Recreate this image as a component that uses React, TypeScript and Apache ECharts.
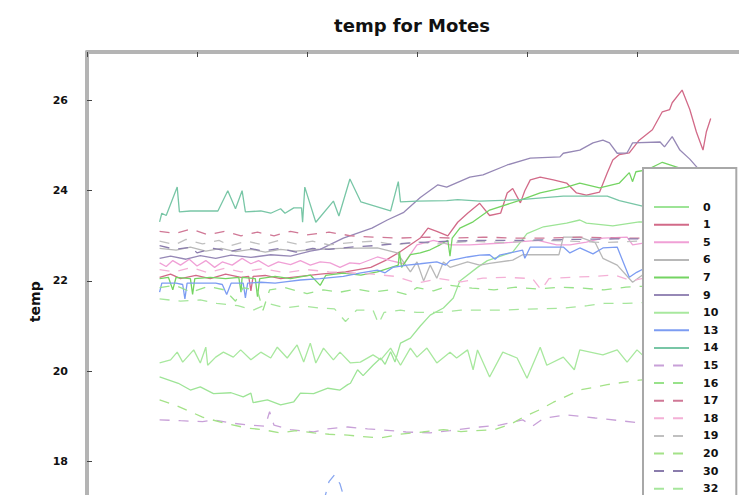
import React, { useEffect, useRef } from "react";
import * as echarts from "echarts";

type Pt = [number, number];

const TITLE = "temp for Motes";
const Y_NAME = "temp";
const X_MIN = 0;
const X_MAX = 60;
const X_STEP = 10;
const Y_MIN = 16;
const Y_MAX = 27.075;
const Y_STEP = 2;

const mote0: Pt[] = [[6.6,19.87],[8.3,19.73],[9.4,19.58],[10.3,19.65],[11.5,19.5],[13.1,19.52],[14.2,19.43],[14.9,19.51],[15.1,19.3],[16.4,19.36],[17.6,19.25],[18.8,19.32],[19.4,19.51],[20.6,19.5],[21.9,19.62],[23.0,19.58],[23.7,19.7],[23.95,19.73],[24.6,20.03],[25.1,19.9],[26.0,20.13],[26.7,20.29],[27.1,20.15],[27.6,20.43],[28.0,20.2],[28.5,20.62],[29.4,20.73],[30.3,21.0],[31.2,21.24],[32.4,21.4],[33.3,21.62],[33.9,22.0],[35.5,22.3],[36.4,22.45],[38.7,22.64],[40.0,23.05],[41.5,23.2],[43.6,23.28],[44.8,23.35],[45.4,23.28],[47.8,23.22],[50.2,23.31],[52.1,23.3],[56.7,23.3]];
const mote1: Pt[] = [[6.6,22.08],[7.6,22.15],[8.5,22.05],[9.9,22.12],[11.2,22.05],[12.6,22.15],[14.0,22.08],[14.7,22.1],[14.9,21.78],[15.1,22.1],[16.2,22.12],[17.6,22.05],[19.4,22.1],[21.2,22.15],[23.5,22.2],[25.8,22.3],[27.1,22.45],[28.5,22.65],[29.4,22.8],[30.3,22.95],[31.0,23.17],[31.8,23.1],[32.8,23.0],[33.7,23.3],[34.6,23.5],[35.7,23.72],[36.6,23.45],[37.6,23.5],[38.2,23.95],[38.7,24.05],[39.4,23.73],[39.8,24.0],[40.3,24.24],[41.2,24.3],[42.4,24.24],[43.6,24.17],[44.5,23.95],[45.4,23.9],[46.6,23.97],[47.3,24.4],[47.8,24.68],[48.4,24.8],[49.3,24.84],[50.2,25.12],[51.4,25.35],[52.3,25.75],[52.97,25.8],[53.2,25.95],[54.1,26.23],[54.8,25.8],[55.4,25.3],[56.0,24.9],[56.3,25.3],[56.7,25.6]];
const mote5: Pt[] = [[6.6,22.4],[7.2,22.32],[7.8,22.45],[8.5,22.35],[9.3,22.48],[10.0,22.33],[10.8,22.45],[11.6,22.3],[12.3,22.42],[13.2,22.35],[14.1,22.5],[14.9,22.38],[15.6,22.45],[16.5,22.32],[17.4,22.42],[18.5,22.36],[19.4,22.45],[20.3,22.35],[21.2,22.42],[22.1,22.4],[23.0,22.3],[23.9,22.4],[24.8,22.38],[26.4,22.53],[27.6,22.45],[28.8,22.38],[30.0,22.8],[31.5,22.9],[33.0,22.8],[34.8,22.8],[37.8,22.84],[41.0,22.9],[42.7,22.8],[43.9,22.8],[45.4,22.86],[46.9,22.95],[49.1,22.97],[49.6,22.8],[52.1,22.9],[55.7,22.9],[56.7,22.9]];
const mote6: Pt[] = [[6.6,22.72],[8.1,22.68],[9.4,22.75],[10.8,22.66],[12.2,22.72],[13.5,22.65],[14.9,22.7],[16.2,22.64],[17.6,22.7],[19.0,22.66],[20.3,22.69],[23.0,22.72],[26.4,22.73],[28.2,22.62],[29.4,22.2],[30.0,22.42],[30.6,22.0],[31.2,22.35],[31.8,22.06],[32.4,22.42],[33.0,22.3],[34.6,22.42],[35.7,22.35],[36.6,22.39],[38.7,22.46],[39.6,22.58],[42.9,22.58],[43.3,22.97],[44.8,22.97],[46.2,22.85],[46.9,22.5],[48.2,22.35],[49.6,21.97],[50.5,22.13],[53.9,22.2],[56.7,22.2]];
const mote7: Pt[] = [[6.6,22.05],[7.4,22.08],[7.8,21.8],[8.1,22.08],[9.4,22.05],[9.6,21.7],[9.8,22.05],[11.2,22.08],[12.6,22.05],[13.8,22.08],[14.0,21.75],[14.1,22.08],[15.3,22.05],[15.5,21.65],[15.7,22.05],[17.1,22.1],[18.5,22.05],[20.3,22.13],[21.2,21.9],[21.7,22.12],[23.3,22.17],[24.9,22.13],[26.4,22.2],[28.3,22.35],[28.4,22.65],[28.6,22.3],[29.4,22.58],[30.3,22.62],[31.2,22.69],[32.1,22.8],[32.8,22.9],[33.0,22.55],[33.2,22.95],[33.9,23.17],[35.1,23.31],[36.6,23.57],[39.4,23.79],[41.2,23.95],[43.6,24.08],[44.8,24.17],[46.6,24.06],[48.4,24.17],[49.3,24.4],[49.6,24.2],[49.9,24.42],[50.9,24.46],[51.8,24.57],[52.3,24.63],[53.9,24.5],[56.7,24.4]];
const mote9: Pt[] = [[6.6,22.5],[7.6,22.55],[9.0,22.48],[10.3,22.56],[11.7,22.5],[13.1,22.57],[14.9,22.52],[16.7,22.58],[18.5,22.55],[20.3,22.66],[21.2,22.7],[23.3,22.95],[25.9,23.17],[27.3,23.35],[28.8,23.52],[30.3,23.85],[31.9,24.13],[32.7,24.08],[34.8,24.3],[36.0,24.35],[38.2,24.57],[40.3,24.72],[43.0,24.75],[43.3,24.83],[44.8,24.9],[46.0,25.06],[46.9,25.12],[47.5,25.06],[48.2,24.83],[49.1,24.84],[49.6,25.06],[52.1,25.08],[52.5,24.97],[53.2,25.2],[53.9,24.9],[54.8,24.7],[55.7,24.45],[56.7,24.3]];
const mote10: Pt[] = [[6.6,20.18],[7.6,20.25],[8.2,20.42],[8.7,20.2],[9.7,20.47],[10.3,20.18],[10.8,20.53],[10.97,20.13],[11.7,20.31],[12.4,20.42],[13.3,20.31],[13.97,20.47],[14.9,20.25],[15.8,20.42],[16.7,20.29],[17.3,20.53],[18.2,20.29],[19.1,20.58],[19.7,20.2],[20.3,20.62],[20.8,20.18],[21.5,20.51],[22.4,20.25],[23.0,20.42],[23.95,20.18],[24.85,20.2],[26.0,20.36],[26.7,20.25],[27.6,20.51],[28.5,20.13],[29.4,20.51],[30.0,20.31],[30.9,20.51],[31.8,20.18],[33.0,20.42],[33.6,20.29],[34.6,20.47],[35.1,20.03],[35.5,20.47],[36.6,19.87],[37.8,20.42],[39.1,20.29],[40.0,19.84],[41.2,20.53],[41.8,20.13],[43.3,20.31],[44.3,20.03],[44.8,20.47],[46.9,20.36],[48.2,20.47],[49.1,20.2],[50.0,20.47],[50.7,20.31],[53.0,20.4],[56.7,20.3]];
const mote13: Pt[] = [[6.6,21.75],[6.8,21.95],[8.1,21.95],[8.7,21.92],[8.9,21.6],[9.1,21.95],[10.3,21.95],[11.7,21.95],[12.3,21.92],[12.7,21.7],[13.1,21.95],[14.2,21.95],[14.4,21.62],[14.6,21.95],[15.8,21.97],[17.1,21.95],[18.0,21.98],[19.4,22.02],[21.2,22.05],[23.3,22.1],[24.9,22.18],[26.4,22.24],[27.1,22.18],[27.8,22.3],[29.1,22.35],[30.3,22.38],[31.8,22.42],[32.6,22.35],[33.0,22.45],[34.6,22.53],[35.7,22.57],[36.6,22.58],[37.1,22.48],[37.5,22.57],[39.6,22.68],[39.8,22.5],[40.3,22.75],[43.3,22.75],[43.9,22.62],[44.8,22.73],[46.0,22.6],[46.9,22.73],[48.2,22.75],[49.3,22.08],[49.97,22.19],[50.7,22.28],[53.9,22.35],[56.7,22.35]];
const mote14: Pt[] = [[6.6,23.31],[6.8,23.5],[7.2,23.45],[8.2,24.08],[8.4,23.53],[9.4,23.55],[10.8,23.55],[11.9,23.55],[12.8,24.0],[13.5,23.6],[14.1,24.0],[14.4,23.53],[15.8,23.55],[16.7,23.5],[17.6,23.6],[18.0,23.5],[18.8,23.62],[19.5,23.62],[19.6,23.3],[19.8,24.08],[20.8,23.3],[22.4,23.77],[22.9,23.44],[23.9,24.26],[24.9,23.75],[26.7,23.62],[27.6,23.55],[28.3,24.2],[28.5,23.75],[30.0,23.77],[32.7,23.78],[33.7,23.8],[35.7,23.77],[39.4,23.8],[43.3,23.88],[47.3,23.88],[48.4,23.78],[50.5,23.66],[53.9,23.6],[56.7,23.55]];
const mote15: Pt[] = [[6.6,18.92],[8.5,18.9],[10.5,18.88],[11.5,18.92],[13.0,18.85],[14.9,18.8],[16.2,18.78],[16.6,19.1],[17.0,18.8],[18.5,18.7],[20.6,18.65],[21.9,18.72],[23.7,18.76],[25.5,18.72],[26.7,18.7],[29.0,18.65],[31.2,18.63],[33.0,18.68],[35.7,18.76],[37.5,18.8],[39.6,18.92],[40.5,18.78],[41.5,18.95],[43.6,19.03],[46.2,18.96],[48.5,18.9],[50.2,18.85],[53.0,18.85],[56.7,18.82]];
const mote16: Pt[] = [[6.6,21.85],[8.0,21.9],[9.5,21.75],[11.0,21.88],[12.5,21.8],[13.5,21.55],[14.2,21.85],[15.5,21.78],[16.0,21.35],[16.6,21.8],[18.0,21.85],[20.0,21.72],[21.5,21.8],[23.0,21.75],[24.5,21.82],[26.0,21.75],[27.5,21.8],[29.0,21.7],[30.0,21.85],[31.5,21.78],[33.0,21.9],[35.0,21.84],[37.0,21.8],[39.0,21.86],[41.0,21.82],[43.0,21.86],[45.0,21.84],[47.0,21.8],[49.0,21.86],[50.5,21.88],[56.7,21.9]];
const mote17: Pt[] = [[6.6,23.1],[8.0,23.05],[9.5,23.15],[11.0,23.02],[12.5,23.1],[14.0,23.0],[15.5,23.08],[17.0,23.0],[18.5,23.1],[20.0,23.02],[22.0,23.08],[24.0,23.0],[26.0,22.97],[28.5,22.95],[31.0,22.97],[33.0,22.95],[36.0,22.97],[39.0,22.95],[42.0,22.95],[45.0,22.97],[48.0,22.95],[50.5,22.95],[56.7,22.95]];
const mote18: Pt[] = [[6.6,22.25],[8.0,22.2],[9.5,22.3],[11.0,22.18],[12.5,22.28],[14.0,22.2],[16.0,22.27],[18.0,22.18],[20.0,22.25],[22.0,22.2],[24.0,22.18],[26.0,22.15],[28.0,22.1],[30.0,21.95],[32.0,22.05],[34.0,21.98],[36.0,22.06],[38.0,22.08],[40.5,22.05],[41.3,21.8],[42.0,22.05],[44.0,22.08],[46.0,22.1],[48.0,22.13],[49.5,22.0],[51.0,22.08],[56.7,22.1]];
const mote19: Pt[] = [[6.6,22.88],[8.0,22.8],[9.0,22.92],[10.5,22.82],[12.0,22.9],[13.0,22.78],[14.5,22.88],[16.0,22.8],[17.5,22.9],[19.0,22.82],[20.5,22.88],[22.0,22.8],[24.0,22.85],[26.0,22.88],[28.0,22.8],[30.0,22.86],[32.0,22.82],[35.0,22.88],[38.0,22.85],[41.0,22.9],[44.0,22.88],[47.0,22.85],[50.0,22.88],[56.7,22.88]];
const mote20: Pt[] = [[6.6,19.36],[8.0,19.25],[9.4,19.1],[10.5,18.98],[12.4,18.85],[14.5,18.74],[16.0,18.7],[17.6,18.63],[19.0,18.68],[20.6,18.63],[22.0,18.6],[23.7,18.58],[25.0,18.55],[26.7,18.52],[28.5,18.6],[30.5,18.65],[32.4,18.7],[34.0,18.66],[37.0,18.7],[38.5,18.82],[39.6,18.97],[41.2,19.15],[42.4,19.31],[44.8,19.58],[47.3,19.7],[50.2,19.8],[53.0,19.85],[56.7,19.9]];
const mote30: Pt[] = [[6.6,22.78],[8.0,22.7],[9.5,22.75],[10.0,22.62],[11.5,22.72],[13.0,22.65],[14.5,22.74],[16.0,22.66],[17.5,22.72],[19.0,22.64],[20.5,22.72],[22.0,22.7],[24.0,22.75],[26.0,22.78],[28.0,22.82],[30.0,22.85],[33.0,22.88],[36.0,22.9],[40.0,22.9],[44.0,22.92],[48.0,22.93],[51.0,22.93],[56.7,22.93]];
const mote32: Pt[] = [[6.6,21.6],[8.5,21.55],[10.3,21.58],[11.8,21.5],[13.7,21.45],[15.1,21.35],[16.5,21.5],[18.0,21.4],[19.5,21.45],[21.0,21.4],[22.5,21.38],[23.5,21.1],[24.5,21.35],[26.0,21.35],[26.5,21.05],[27.0,21.3],[28.5,21.35],[30.0,21.3],[32.0,21.3],[34.0,21.35],[35.5,21.35],[37.5,21.35],[39.5,21.37],[41.5,21.38],[43.5,21.4],[45.5,21.45],[47.0,21.5],[49.0,21.5],[50.5,21.52],[53.0,21.56],[56.7,21.58]];
const mote33: Pt[] = [[6.6,16.6],[12.0,16.5],[18.0,16.7],[21.4,17.0],[22.0,17.55],[22.5,17.7],[23.0,17.5],[23.6,17.0],[30.0,16.6],[40.0,16.5],[50.0,16.6],[56.7,16.6]];

const MOTE_NAMES = ["0","1","5","6","7","9","10","13","14","15","16","17","18","19","20","30","32","33"];
const MOTE_DATA = [mote0,mote1,mote5,mote6,mote7,mote9,mote10,mote13,mote14,mote15,mote16,mote17,mote18,mote19,mote20,mote30,mote32,mote33];
const MOTE_COLORS = ["#9de496","#d26a88","#f0a0d6","#b8b8b8","#74d462","#9688b6","#a8e89e","#7c9cf2","#78c6a6","#c8a0d8","#98e28a","#d07896","#f4b0d6","#c0c0c0","#a4e288","#8a7cac","#a6e69c","#88a6f0"];
const MOTE_DASHED = [false,false,false,false,false,false,false,false,false,true,true,true,true,true,true,true,true,true];

export default function App() {
  const ref = useRef<HTMLDivElement>(null);
  useEffect(() => {
    if (!ref.current) return;
    const chart = echarts.init(ref.current, undefined, { renderer: "svg" });
    const font = "DejaVu Sans";
    chart.setOption({
      animation: false,
      backgroundColor: "#ffffff",
      title: {
        text: TITLE,
        left: 412,
        top: 16,
        padding: 0,
        textAlign: "center",
        textStyle: { fontFamily: font, fontSize: 18, fontWeight: "bold", color: "#111" },
      },
      grid: { left: 87, top: 52, right: -8, bottom: -56.5, outerBoundsMode: "none", containLabel: false },
      xAxis: {
        type: "value",
        position: "top",
        min: X_MIN,
        max: X_MAX,
        interval: X_STEP,
        axisLine: { show: true, onZero: false, lineStyle: { color: "#b4b4b4", width: 4 } },
        axisTick: { show: true, inside: true, length: 5, lineStyle: { color: "#444", width: 1 } },
        axisLabel: { show: false },
        splitLine: { show: false },
      },
      yAxis: {
        type: "value",
        min: Y_MIN,
        max: Y_MAX,
        interval: Y_STEP,
        name: Y_NAME,
        nameLocation: "middle",
        nameGap: 44,
        nameTextStyle: { fontFamily: font, fontSize: 14, fontWeight: "bold", color: "#111" },
        axisLine: { show: true, onZero: false, lineStyle: { color: "#b4b4b4", width: 4 } },
        axisTick: { show: true, inside: true, length: 5, lineStyle: { color: "#444", width: 1 } },
        axisLabel: {
          margin: 19,
          showMaxLabel: false,
          showMinLabel: false,
          fontFamily: font,
          fontSize: 11,
          fontWeight: "bold",
          color: "#111",
        },
        splitLine: { show: false },
      },
      legend: {
        orient: "vertical",
        left: 643,
        top: 168,
        height: 440,
        padding: [33.5, 18, 40, 10],
        itemWidth: 35,
        itemHeight: 14,
        itemGap: 6.4,
        selectedMode: false,
        backgroundColor: "#ffffff",
        borderColor: "#a8a8a8",
        borderWidth: 2,
        itemStyle: { color: "rgba(0,0,0,0)", borderWidth: 0, opacity: 0 },
        textStyle: { fontFamily: font, fontSize: 11, fontWeight: "bold", color: "#111", padding: [0, 0, 0, 9] },
      },
      series: MOTE_NAMES.map((name, i) => ({
        name,
        type: "line",
        data: MOTE_DATA[i],
        symbol: "none",
        showSymbol: false,
        z: 2,
        lineStyle: {
          color: MOTE_COLORS[i],
          width: 1.3,
          type: MOTE_DASHED[i] ? [10, 9] : "solid",
        },
        itemStyle: { color: MOTE_COLORS[i] },
        emphasis: { disabled: true },
      })),
    });
    return () => chart.dispose();
  }, []);
  return <div ref={ref} style={{ position: "fixed", left: 0, top: 0, width: 739, height: 495 }} />;
}
